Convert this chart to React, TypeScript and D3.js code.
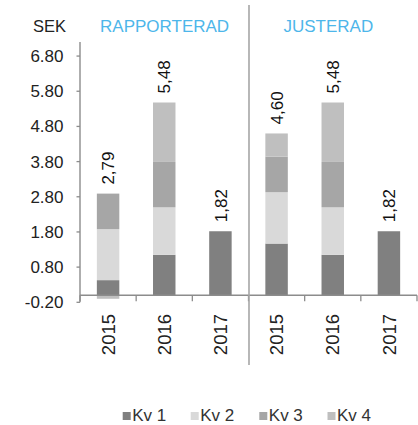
import React from "react";
import * as d3 from "d3";

const categories = ["2015", "2016", "2017", "2015", "2016", "2017"];
const groups = ["RAPPORTERAD", "JUSTERAD"];
const seriesNames = ["Kv 1", "Kv 2", "Kv 3", "Kv 4"];
const kv1 = [0.43, 1.15, 1.82, 1.47, 1.15, 1.82];
const kv2 = [1.45, 1.35, 0, 1.46, 1.35, 0];
const kv3 = [1.01, 1.29, 0, 1.01, 1.29, 0];
const kv4 = [-0.1, 1.69, 0, 0.66, 1.69, 0];
const totalLabels = ["2,79", "5,48", "1,82", "4,60", "5,48", "1,82"];
const yTicks = [-0.2, 0.8, 1.8, 2.8, 3.8, 4.8, 5.8, 6.8];
const colors = ["#808080", "#d9d9d9", "#a6a6a6", "#bfbfbf"];

const W = 418;
const H = 425;
const FONT = "'Liberation Sans', Arial, sans-serif";

export default function App() {
  const x = d3
    .scaleBand<number>()
    .domain(categories.map((_, i) => i))
    .range([80, 417])
    .paddingInner(0.6)
    .paddingOuter(0.3);
  const y = d3.scaleLinear().domain([-0.2, 7.2]).range([302.3, 42]);

  const rows = categories.map((_, i) => ({
    i,
    k0: kv1[i],
    k1: kv2[i],
    k2: kv3[i],
    k3: kv4[i],
  }));
  const stack = d3
    .stack<any>()
    .keys(["k0", "k1", "k2", "k3"])
    .offset(d3.stackOffsetDiverging);
  const layers = stack(rows);

  const step = x.step();
  const boundaries = d3.range(categories.length + 1).map((k) => 80 + k * step);
  const axisColor = "#8c8c8c";

  const tops = rows.map((r) =>
    d3.sum([r.k0, r.k1, r.k2, r.k3].filter((v) => v > 0))
  );

  const legendX = [122.7, 190.7, 259.3, 327.5];

  return (
    <svg
      width={W}
      height={H}
      style={{ position: "absolute", left: 0, top: 0 }}
      fontFamily={FONT}
    >
      <rect width={W} height={H} fill="#fff" />
      {/* header */}
      <text x={33} y={31.5} fontSize={16.5} fill="#222">
        SEK
      </text>
      <text x={164.6} y={31.5} fontSize={17} fill="#4db6ea" textAnchor="middle">
        {groups[0]}
      </text>
      <text x={328.3} y={31.5} fontSize={17} fill="#4db6ea" textAnchor="middle">
        {groups[1]}
      </text>

      {/* bars */}
      {layers.map((layer, li) => (
        <g key={li} fill={colors[li]}>
          {layer.map((d, j) =>
            d[1] - d[0] !== 0 ? (
              <rect
                key={j}
                x={x(j)}
                width={x.bandwidth()}
                y={y(Math.max(d[0], d[1]))}
                height={Math.abs(y(d[0]) - y(d[1]))}
              />
            ) : null
          )}
        </g>
      ))}

      {/* y axis */}
      <line x1={80} x2={80} y1={42} y2={y(-0.2)} stroke={axisColor} strokeWidth={1.4} />
      {yTicks.map((t) => (
        <g key={t}>
          <line x1={76.5} x2={80} y1={y(t)} y2={y(t)} stroke={axisColor} strokeWidth={1.3} />
          <text
            x={63.5}
            y={y(t)}
            dy="0.35em"
            textAnchor="end"
            fontSize={17}
            fill="#222"
          >
            {t.toFixed(2)}
          </text>
        </g>
      ))}

      {/* x axis */}
      <line x1={80} x2={417} y1={y(0)} y2={y(0)} stroke={axisColor} strokeWidth={1.4} />
      {boundaries.map((b, k) => (
        <line
          key={k}
          x1={b}
          x2={b}
          y1={y(0)}
          y2={y(0) + 6}
          stroke={axisColor}
          strokeWidth={1.3}
        />
      ))}
      {categories.map((c, i) => {
        const cx = (x(i) as number) + x.bandwidth() / 2;
        return (
          <text
            key={i}
            transform={`translate(${cx},314) rotate(-90)`}
            textAnchor="end"
            dy="0.36em"
            fontSize={18.5}
            fill="#222"
          >
            {c}
          </text>
        );
      })}

      {/* value labels */}
      {totalLabels.map((l, i) => {
        const cx = (x(i) as number) + x.bandwidth() / 2;
        return (
          <text
            key={i}
            transform={`translate(${cx},${y(tops[i]) - 9}) rotate(-90)`}
            textAnchor="start"
            dy="0.36em"
            fontSize={17}
            fill="#111"
          >
            {l}
          </text>
        );
      })}

      {/* separator */}
      <line x1={249} x2={249} y1={5} y2={365} stroke="#a6a6a6" strokeWidth={1.6} />

      {/* legend */}
      {seriesNames.map((s, i) => (
        <g key={s}>
          <rect x={legendX[i]} y={412} width={8} height={8} fill={colors[i]} />
          <text x={legendX[i] + 9.5} y={421} fontSize={17} fill="#333">
            {s}
          </text>
        </g>
      ))}
    </svg>
  );
}
